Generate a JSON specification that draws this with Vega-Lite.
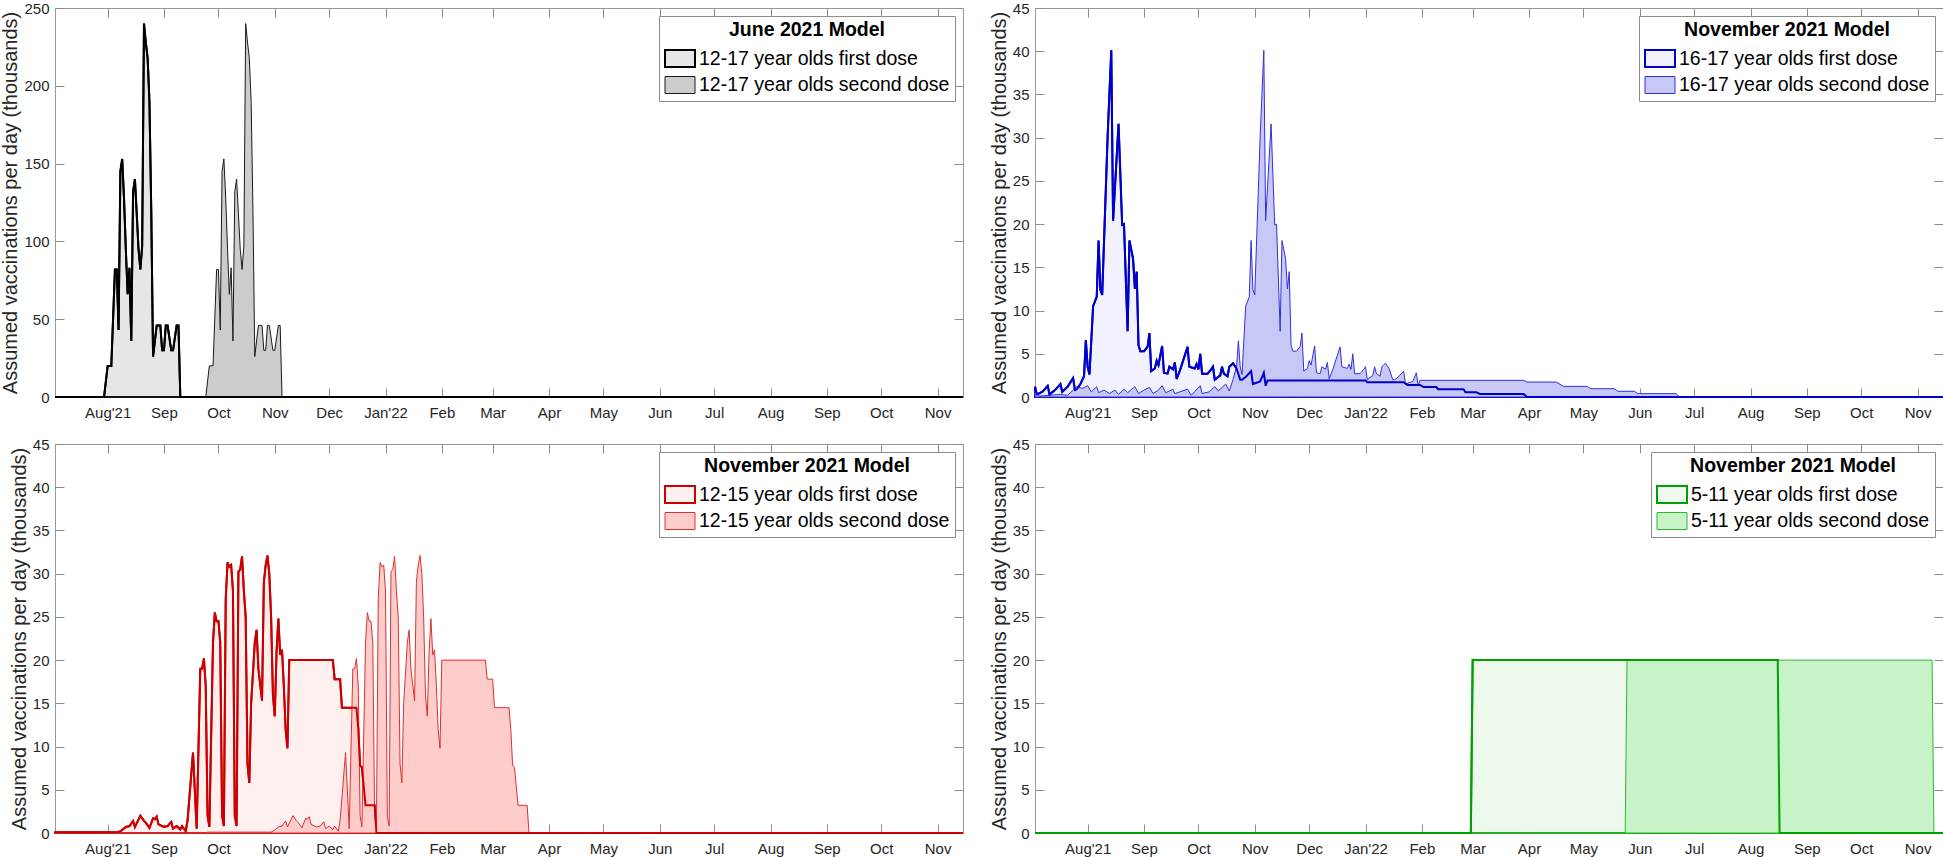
{
"$schema": "https://vega.github.io/schema/vega-lite/v6.json",
"padding": {"left": 0, "top": 0, "right": 0, "bottom": 0},
"background": "white",
"columns": 2,
"bounds": "flush",
"spacing": {"row": 47, "column": 72},
"datasets": {
"p1": [
{"s":"first","d":"2021-07-03","v":0},{"s":"first","d":"2021-07-30","v":0},{"s":"first","d":"2021-08-01","v":20},{"s":"first","d":"2021-08-03","v":20},{"s":"first","d":"2021-08-05","v":82},{"s":"first","d":"2021-08-06","v":82},{"s":"first","d":"2021-08-07","v":43},{"s":"first","d":"2021-08-08","v":145},{"s":"first","d":"2021-08-09","v":153},{"s":"first","d":"2021-08-10","v":128},{"s":"first","d":"2021-08-11","v":95},{"s":"first","d":"2021-08-12","v":66},{"s":"first","d":"2021-08-13","v":83},{"s":"first","d":"2021-08-14","v":36},{"s":"first","d":"2021-08-15","v":132},{"s":"first","d":"2021-08-16","v":140},{"s":"first","d":"2021-08-17","v":118},{"s":"first","d":"2021-08-18","v":95},{"s":"first","d":"2021-08-19","v":82},{"s":"first","d":"2021-08-20","v":97},{"s":"first","d":"2021-08-21","v":240},{"s":"first","d":"2021-08-22","v":228},{"s":"first","d":"2021-08-23","v":218},{"s":"first","d":"2021-08-24","v":190},{"s":"first","d":"2021-08-25","v":120},{"s":"first","d":"2021-08-26","v":26},{"s":"first","d":"2021-08-28","v":46},{"s":"first","d":"2021-08-30","v":46},{"s":"first","d":"2021-08-31","v":30},{"s":"first","d":"2021-09-01","v":30},{"s":"first","d":"2021-09-02","v":46},{"s":"first","d":"2021-09-03","v":46},{"s":"first","d":"2021-09-05","v":30},{"s":"first","d":"2021-09-06","v":30},{"s":"first","d":"2021-09-08","v":46},{"s":"first","d":"2021-09-09","v":46},{"s":"first","d":"2021-09-10","v":0},{"s":"first","d":"2022-11-15","v":0},
{"s":"second","d":"2021-07-03","v":0},{"s":"second","d":"2021-09-24","v":0},{"s":"second","d":"2021-09-26","v":20},{"s":"second","d":"2021-09-28","v":20},{"s":"second","d":"2021-09-30","v":82},{"s":"second","d":"2021-10-01","v":82},{"s":"second","d":"2021-10-02","v":43},{"s":"second","d":"2021-10-03","v":145},{"s":"second","d":"2021-10-04","v":153},{"s":"second","d":"2021-10-05","v":128},{"s":"second","d":"2021-10-06","v":95},{"s":"second","d":"2021-10-07","v":66},{"s":"second","d":"2021-10-08","v":83},{"s":"second","d":"2021-10-09","v":36},{"s":"second","d":"2021-10-10","v":132},{"s":"second","d":"2021-10-11","v":140},{"s":"second","d":"2021-10-12","v":118},{"s":"second","d":"2021-10-13","v":95},{"s":"second","d":"2021-10-14","v":82},{"s":"second","d":"2021-10-15","v":97},{"s":"second","d":"2021-10-16","v":240},{"s":"second","d":"2021-10-17","v":228},{"s":"second","d":"2021-10-18","v":218},{"s":"second","d":"2021-10-19","v":190},{"s":"second","d":"2021-10-20","v":120},{"s":"second","d":"2021-10-21","v":26},{"s":"second","d":"2021-10-23","v":46},{"s":"second","d":"2021-10-25","v":46},{"s":"second","d":"2021-10-26","v":30},{"s":"second","d":"2021-10-27","v":30},{"s":"second","d":"2021-10-28","v":46},{"s":"second","d":"2021-10-29","v":46},{"s":"second","d":"2021-10-31","v":30},{"s":"second","d":"2021-11-01","v":30},{"s":"second","d":"2021-11-03","v":46},{"s":"second","d":"2021-11-04","v":46},{"s":"second","d":"2021-11-05","v":0},{"s":"second","d":"2022-11-15","v":0}
],
"p2": [
{"s":"first","d":"2021-07-03","v":1.2},{"s":"first","d":"2021-07-04","v":0.3},{"s":"first","d":"2021-07-07","v":0.6},{"s":"first","d":"2021-07-10","v":1.3},{"s":"first","d":"2021-07-11","v":0.3},{"s":"first","d":"2021-07-14","v":0.8},{"s":"first","d":"2021-07-17","v":1.5},{"s":"first","d":"2021-07-18","v":0.6},{"s":"first","d":"2021-07-21","v":1.2},{"s":"first","d":"2021-07-24","v":2.2},{"s":"first","d":"2021-07-25","v":0.8},{"s":"first","d":"2021-07-26","v":0.9},{"s":"first","d":"2021-07-28","v":1.5},{"s":"first","d":"2021-07-30","v":2.4},{"s":"first","d":"2021-07-31","v":6.6},{"s":"first","d":"2021-08-01","v":3.5},{"s":"first","d":"2021-08-02","v":2.6},{"s":"first","d":"2021-08-04","v":10.5},{"s":"first","d":"2021-08-06","v":11.6},{"s":"first","d":"2021-08-07","v":18.1},{"s":"first","d":"2021-08-08","v":12.4},{"s":"first","d":"2021-08-09","v":11.8},{"s":"first","d":"2021-08-12","v":30.2},{"s":"first","d":"2021-08-14","v":40.1},{"s":"first","d":"2021-08-15","v":20.4},{"s":"first","d":"2021-08-18","v":31.6},{"s":"first","d":"2021-08-20","v":19.9},{"s":"first","d":"2021-08-21","v":20},{"s":"first","d":"2021-08-23","v":7.6},{"s":"first","d":"2021-08-24","v":18.1},{"s":"first","d":"2021-08-26","v":16},{"s":"first","d":"2021-08-27","v":12.5},{"s":"first","d":"2021-08-28","v":14.5},{"s":"first","d":"2021-08-29","v":6},{"s":"first","d":"2021-08-30","v":5.3},{"s":"first","d":"2021-09-01","v":5.3},{"s":"first","d":"2021-09-03","v":5.8},{"s":"first","d":"2021-09-04","v":7.4},{"s":"first","d":"2021-09-05","v":3.0},{"s":"first","d":"2021-09-07","v":3.3},{"s":"first","d":"2021-09-08","v":4.2},{"s":"first","d":"2021-09-09","v":3.7},{"s":"first","d":"2021-09-11","v":5.9},{"s":"first","d":"2021-09-12","v":2.8},{"s":"first","d":"2021-09-14","v":2.7},{"s":"first","d":"2021-09-15","v":3.5},{"s":"first","d":"2021-09-17","v":3.2},{"s":"first","d":"2021-09-18","v":4.0},{"s":"first","d":"2021-09-19","v":2.1},{"s":"first","d":"2021-09-21","v":3.2},{"s":"first","d":"2021-09-25","v":5.8},{"s":"first","d":"2021-09-26","v":3.5},{"s":"first","d":"2021-09-29","v":3.3},{"s":"first","d":"2021-09-30","v":3.8},{"s":"first","d":"2021-10-01","v":3.2},{"s":"first","d":"2021-10-02","v":5.0},{"s":"first","d":"2021-10-03","v":2.7},{"s":"first","d":"2021-10-06","v":2.7},{"s":"first","d":"2021-10-08","v":3.2},{"s":"first","d":"2021-10-09","v":3.5},{"s":"first","d":"2021-10-10","v":2.0},{"s":"first","d":"2021-10-13","v":2.5},{"s":"first","d":"2021-10-14","v":3.5},{"s":"first","d":"2021-10-15","v":2.7},{"s":"first","d":"2021-10-17","v":2.4},{"s":"first","d":"2021-10-18","v":3.5},{"s":"first","d":"2021-10-20","v":3.9},{"s":"first","d":"2021-10-22","v":3.3},{"s":"first","d":"2021-10-24","v":2.0},{"s":"first","d":"2021-10-25","v":2.0},{"s":"first","d":"2021-10-27","v":2.3},{"s":"first","d":"2021-10-30","v":3.0},{"s":"first","d":"2021-10-31","v":1.5},{"s":"first","d":"2021-11-04","v":1.8},{"s":"first","d":"2021-11-06","v":2.8},{"s":"first","d":"2021-11-07","v":1.3},{"s":"first","d":"2021-11-08","v":1.9},{"s":"first","d":"2022-01-01","v":1.9},{"s":"first","d":"2022-01-02","v":1.7},{"s":"first","d":"2022-01-22","v":1.7},{"s":"first","d":"2022-01-24","v":1.4},{"s":"first","d":"2022-01-31","v":1.4},{"s":"first","d":"2022-02-02","v":1.15},{"s":"first","d":"2022-02-09","v":1.15},{"s":"first","d":"2022-02-10","v":0.9},{"s":"first","d":"2022-02-24","v":0.9},{"s":"first","d":"2022-02-25","v":0.55},{"s":"first","d":"2022-03-03","v":0.55},{"s":"first","d":"2022-03-05","v":0.35},{"s":"first","d":"2022-03-29","v":0.35},{"s":"first","d":"2022-03-31","v":0},{"s":"first","d":"2022-11-15","v":0},
{"s":"second","d":"2021-07-03","v":0.8},{"s":"second","d":"2021-07-05","v":0.1},{"s":"second","d":"2021-07-17","v":0.3},{"s":"second","d":"2021-07-21","v":0.2},{"s":"second","d":"2021-07-26","v":1.2},{"s":"second","d":"2021-07-29","v":1.0},{"s":"second","d":"2021-08-01","v":1.3},{"s":"second","d":"2021-08-03","v":0.6},{"s":"second","d":"2021-08-06","v":1.2},{"s":"second","d":"2021-08-07","v":0.5},{"s":"second","d":"2021-08-10","v":0.8},{"s":"second","d":"2021-08-13","v":0.4},{"s":"second","d":"2021-08-16","v":0.8},{"s":"second","d":"2021-08-18","v":0.3},{"s":"second","d":"2021-08-21","v":0.9},{"s":"second","d":"2021-08-23","v":0.5},{"s":"second","d":"2021-08-27","v":1.2},{"s":"second","d":"2021-08-29","v":0.4},{"s":"second","d":"2021-09-01","v":0.8},{"s":"second","d":"2021-09-04","v":1.1},{"s":"second","d":"2021-09-06","v":0.4},{"s":"second","d":"2021-09-09","v":0.8},{"s":"second","d":"2021-09-11","v":1.3},{"s":"second","d":"2021-09-13","v":0.5},{"s":"second","d":"2021-09-17","v":0.9},{"s":"second","d":"2021-09-18","v":0.4},{"s":"second","d":"2021-09-25","v":0.9},{"s":"second","d":"2021-09-27","v":0.2},{"s":"second","d":"2021-10-02","v":1.3},{"s":"second","d":"2021-10-03","v":0.4},{"s":"second","d":"2021-10-07","v":0.6},{"s":"second","d":"2021-10-10","v":1.2},{"s":"second","d":"2021-10-12","v":0.7},{"s":"second","d":"2021-10-16","v":1.5},{"s":"second","d":"2021-10-18","v":0.7},{"s":"second","d":"2021-10-20","v":2.0},{"s":"second","d":"2021-10-22","v":3.5},{"s":"second","d":"2021-10-23","v":6.5},{"s":"second","d":"2021-10-24","v":3.5},{"s":"second","d":"2021-10-25","v":2.6},{"s":"second","d":"2021-10-27","v":10.5},{"s":"second","d":"2021-10-29","v":11.6},{"s":"second","d":"2021-10-30","v":18.1},{"s":"second","d":"2021-10-31","v":12.4},{"s":"second","d":"2021-11-01","v":11.8},{"s":"second","d":"2021-11-04","v":30.2},{"s":"second","d":"2021-11-06","v":40.1},{"s":"second","d":"2021-11-07","v":20.4},{"s":"second","d":"2021-11-10","v":31.6},{"s":"second","d":"2021-11-12","v":19.9},{"s":"second","d":"2021-11-13","v":20},{"s":"second","d":"2021-11-15","v":7.6},{"s":"second","d":"2021-11-16","v":18.1},{"s":"second","d":"2021-11-18","v":16},{"s":"second","d":"2021-11-19","v":12.5},{"s":"second","d":"2021-11-20","v":14.5},{"s":"second","d":"2021-11-21","v":6},{"s":"second","d":"2021-11-22","v":5.3},{"s":"second","d":"2021-11-24","v":5.3},{"s":"second","d":"2021-11-26","v":5.8},{"s":"second","d":"2021-11-27","v":7.4},{"s":"second","d":"2021-11-28","v":3.0},{"s":"second","d":"2021-11-30","v":3.3},{"s":"second","d":"2021-12-01","v":4.2},{"s":"second","d":"2021-12-02","v":3.7},{"s":"second","d":"2021-12-04","v":5.9},{"s":"second","d":"2021-12-05","v":2.8},{"s":"second","d":"2021-12-07","v":2.7},{"s":"second","d":"2021-12-08","v":3.5},{"s":"second","d":"2021-12-10","v":3.2},{"s":"second","d":"2021-12-11","v":4.0},{"s":"second","d":"2021-12-12","v":2.1},{"s":"second","d":"2021-12-14","v":3.2},{"s":"second","d":"2021-12-18","v":5.8},{"s":"second","d":"2021-12-19","v":3.5},{"s":"second","d":"2021-12-22","v":3.3},{"s":"second","d":"2021-12-23","v":3.8},{"s":"second","d":"2021-12-24","v":3.2},{"s":"second","d":"2021-12-25","v":5.0},{"s":"second","d":"2021-12-26","v":2.7},{"s":"second","d":"2021-12-29","v":2.7},{"s":"second","d":"2021-12-31","v":3.2},{"s":"second","d":"2022-01-01","v":3.5},{"s":"second","d":"2022-01-02","v":2.0},{"s":"second","d":"2022-01-05","v":2.5},{"s":"second","d":"2022-01-06","v":3.5},{"s":"second","d":"2022-01-07","v":2.7},{"s":"second","d":"2022-01-09","v":2.4},{"s":"second","d":"2022-01-10","v":3.5},{"s":"second","d":"2022-01-12","v":3.9},{"s":"second","d":"2022-01-14","v":3.3},{"s":"second","d":"2022-01-16","v":2.0},{"s":"second","d":"2022-01-17","v":2.0},{"s":"second","d":"2022-01-19","v":2.3},{"s":"second","d":"2022-01-22","v":3.0},{"s":"second","d":"2022-01-23","v":1.5},{"s":"second","d":"2022-01-27","v":1.8},{"s":"second","d":"2022-01-29","v":2.8},{"s":"second","d":"2022-01-30","v":1.3},{"s":"second","d":"2022-01-31","v":1.93},{"s":"second","d":"2022-03-29","v":1.93},{"s":"second","d":"2022-03-31","v":1.73},{"s":"second","d":"2022-04-16","v":1.73},{"s":"second","d":"2022-04-20","v":1.23},{"s":"second","d":"2022-05-03","v":1.23},{"s":"second","d":"2022-05-05","v":0.96},{"s":"second","d":"2022-05-18","v":0.96},{"s":"second","d":"2022-05-20","v":0.66},{"s":"second","d":"2022-05-29","v":0.66},{"s":"second","d":"2022-05-31","v":0.39},{"s":"second","d":"2022-06-21","v":0.39},{"s":"second","d":"2022-06-23","v":0},{"s":"second","d":"2022-11-15","v":0}
],
"p3": [
{"s":"first","d":"2021-07-03","v":0.1},{"s":"first","d":"2021-08-06","v":0.1},{"s":"first","d":"2021-08-08","v":0.2},{"s":"first","d":"2021-08-11","v":0.7},{"s":"first","d":"2021-08-13","v":0.8},{"s":"first","d":"2021-08-15","v":1.4},{"s":"first","d":"2021-08-16","v":0.7},{"s":"first","d":"2021-08-19","v":2.0},{"s":"first","d":"2021-08-21","v":1.4},{"s":"first","d":"2021-08-22","v":1.2},{"s":"first","d":"2021-08-24","v":0.6},{"s":"first","d":"2021-08-26","v":1.7},{"s":"first","d":"2021-08-27","v":1.6},{"s":"first","d":"2021-08-28","v":1.9},{"s":"first","d":"2021-08-29","v":1.0},{"s":"first","d":"2021-09-01","v":0.7},{"s":"first","d":"2021-09-03","v":0.8},{"s":"first","d":"2021-09-05","v":1.3},{"s":"first","d":"2021-09-06","v":0.5},{"s":"first","d":"2021-09-08","v":0.8},{"s":"first","d":"2021-09-10","v":0.4},{"s":"first","d":"2021-09-11","v":0.8},{"s":"first","d":"2021-09-13","v":0.2},{"s":"first","d":"2021-09-14","v":1.5},{"s":"first","d":"2021-09-17","v":9.3},{"s":"first","d":"2021-09-19","v":0.5},{"s":"first","d":"2021-09-21","v":19},{"s":"first","d":"2021-09-22","v":19},{"s":"first","d":"2021-09-23","v":20.2},{"s":"first","d":"2021-09-24","v":17},{"s":"first","d":"2021-09-25","v":2},{"s":"first","d":"2021-09-26","v":0.7},{"s":"first","d":"2021-09-28","v":22},{"s":"first","d":"2021-09-29","v":25.5},{"s":"first","d":"2021-09-30","v":24.5},{"s":"first","d":"2021-10-01","v":24.5},{"s":"first","d":"2021-10-02","v":22},{"s":"first","d":"2021-10-03","v":2},{"s":"first","d":"2021-10-04","v":0.8},{"s":"first","d":"2021-10-05","v":27},{"s":"first","d":"2021-10-06","v":31.3},{"s":"first","d":"2021-10-07","v":30.8},{"s":"first","d":"2021-10-08","v":31},{"s":"first","d":"2021-10-09","v":28},{"s":"first","d":"2021-10-10","v":2},{"s":"first","d":"2021-10-11","v":0.8},{"s":"first","d":"2021-10-12","v":30.2},{"s":"first","d":"2021-10-13","v":30.5},{"s":"first","d":"2021-10-14","v":32},{"s":"first","d":"2021-10-15","v":28},{"s":"first","d":"2021-10-16","v":25},{"s":"first","d":"2021-10-17","v":8},{"s":"first","d":"2021-10-18","v":5.8},{"s":"first","d":"2021-10-19","v":15},{"s":"first","d":"2021-10-21","v":22},{"s":"first","d":"2021-10-22","v":23.5},{"s":"first","d":"2021-10-23","v":19},{"s":"first","d":"2021-10-25","v":15.3},{"s":"first","d":"2021-10-26","v":29},{"s":"first","d":"2021-10-27","v":31},{"s":"first","d":"2021-10-28","v":32.1},{"s":"first","d":"2021-10-29","v":30},{"s":"first","d":"2021-10-30","v":25},{"s":"first","d":"2021-10-31","v":16},{"s":"first","d":"2021-11-01","v":13.5},{"s":"first","d":"2021-11-02","v":21},{"s":"first","d":"2021-11-03","v":24.8},{"s":"first","d":"2021-11-04","v":20.6},{"s":"first","d":"2021-11-05","v":21.2},{"s":"first","d":"2021-11-06","v":17},{"s":"first","d":"2021-11-07","v":12},{"s":"first","d":"2021-11-08","v":9.8},{"s":"first","d":"2021-11-09","v":20},{"s":"first","d":"2021-12-03","v":20},{"s":"first","d":"2021-12-04","v":17.8},{"s":"first","d":"2021-12-07","v":17.8},{"s":"first","d":"2021-12-08","v":14.5},{"s":"first","d":"2021-12-16","v":14.5},{"s":"first","d":"2021-12-17","v":12},{"s":"first","d":"2021-12-18","v":7.8},{"s":"first","d":"2021-12-19","v":7.6},{"s":"first","d":"2021-12-21","v":3.2},{"s":"first","d":"2021-12-26","v":3.2},{"s":"first","d":"2021-12-27","v":0},{"s":"first","d":"2022-11-15","v":0},
{"s":"second","d":"2021-07-03","v":0},{"s":"second","d":"2021-09-24","v":0},{"s":"second","d":"2021-09-25","v":0.1},{"s":"second","d":"2021-10-30","v":0.1},{"s":"second","d":"2021-10-31","v":0.2},{"s":"second","d":"2021-11-03","v":0.7},{"s":"second","d":"2021-11-05","v":0.8},{"s":"second","d":"2021-11-07","v":1.4},{"s":"second","d":"2021-11-08","v":0.7},{"s":"second","d":"2021-11-11","v":2.0},{"s":"second","d":"2021-11-13","v":1.4},{"s":"second","d":"2021-11-14","v":1.2},{"s":"second","d":"2021-11-16","v":0.6},{"s":"second","d":"2021-11-18","v":1.7},{"s":"second","d":"2021-11-19","v":1.6},{"s":"second","d":"2021-11-20","v":1.9},{"s":"second","d":"2021-11-21","v":1.0},{"s":"second","d":"2021-11-24","v":0.7},{"s":"second","d":"2021-11-26","v":0.8},{"s":"second","d":"2021-11-28","v":1.3},{"s":"second","d":"2021-11-29","v":0.5},{"s":"second","d":"2021-12-01","v":0.8},{"s":"second","d":"2021-12-03","v":0.4},{"s":"second","d":"2021-12-04","v":0.8},{"s":"second","d":"2021-12-06","v":0.2},{"s":"second","d":"2021-12-07","v":1.5},{"s":"second","d":"2021-12-10","v":9.3},{"s":"second","d":"2021-12-12","v":0.5},{"s":"second","d":"2021-12-14","v":19},{"s":"second","d":"2021-12-15","v":19},{"s":"second","d":"2021-12-16","v":20.2},{"s":"second","d":"2021-12-17","v":17},{"s":"second","d":"2021-12-18","v":2},{"s":"second","d":"2021-12-19","v":0.7},{"s":"second","d":"2021-12-21","v":22},{"s":"second","d":"2021-12-22","v":25.5},{"s":"second","d":"2021-12-23","v":24.5},{"s":"second","d":"2021-12-24","v":24.5},{"s":"second","d":"2021-12-25","v":22},{"s":"second","d":"2021-12-26","v":2},{"s":"second","d":"2021-12-27","v":0.8},{"s":"second","d":"2021-12-28","v":27},{"s":"second","d":"2021-12-29","v":31.3},{"s":"second","d":"2021-12-30","v":30.8},{"s":"second","d":"2021-12-31","v":31},{"s":"second","d":"2022-01-01","v":28},{"s":"second","d":"2022-01-02","v":2},{"s":"second","d":"2022-01-03","v":0.8},{"s":"second","d":"2022-01-04","v":30.2},{"s":"second","d":"2022-01-05","v":30.5},{"s":"second","d":"2022-01-06","v":32},{"s":"second","d":"2022-01-07","v":28},{"s":"second","d":"2022-01-08","v":25},{"s":"second","d":"2022-01-09","v":8},{"s":"second","d":"2022-01-10","v":5.8},{"s":"second","d":"2022-01-11","v":15},{"s":"second","d":"2022-01-13","v":22},{"s":"second","d":"2022-01-14","v":23.5},{"s":"second","d":"2022-01-15","v":19},{"s":"second","d":"2022-01-17","v":15.3},{"s":"second","d":"2022-01-18","v":29},{"s":"second","d":"2022-01-19","v":31},{"s":"second","d":"2022-01-20","v":32.1},{"s":"second","d":"2022-01-21","v":30},{"s":"second","d":"2022-01-22","v":25},{"s":"second","d":"2022-01-23","v":16},{"s":"second","d":"2022-01-24","v":13.5},{"s":"second","d":"2022-01-25","v":21},{"s":"second","d":"2022-01-26","v":24.8},{"s":"second","d":"2022-01-27","v":20.6},{"s":"second","d":"2022-01-28","v":21.2},{"s":"second","d":"2022-01-29","v":17},{"s":"second","d":"2022-01-30","v":12},{"s":"second","d":"2022-01-31","v":9.8},{"s":"second","d":"2022-02-01","v":20},{"s":"second","d":"2022-02-25","v":20},{"s":"second","d":"2022-02-26","v":17.8},{"s":"second","d":"2022-03-01","v":17.8},{"s":"second","d":"2022-03-02","v":14.5},{"s":"second","d":"2022-03-10","v":14.5},{"s":"second","d":"2022-03-11","v":12},{"s":"second","d":"2022-03-12","v":7.8},{"s":"second","d":"2022-03-13","v":7.6},{"s":"second","d":"2022-03-15","v":3.2},{"s":"second","d":"2022-03-20","v":3.2},{"s":"second","d":"2022-03-21","v":0},{"s":"second","d":"2022-11-15","v":0}
],
"p4": [
{"s":"first","d":"2021-07-03","v":0},{"s":"first","d":"2022-02-28","v":0},{"s":"first","d":"2022-03-01","v":20},{"s":"first","d":"2022-08-16","v":20},{"s":"first","d":"2022-08-17","v":0},{"s":"first","d":"2022-11-15","v":0},
{"s":"second","d":"2021-07-03","v":0},{"s":"second","d":"2022-05-24","v":0},{"s":"second","d":"2022-05-25","v":20},{"s":"second","d":"2022-11-09","v":20},{"s":"second","d":"2022-11-10","v":0},{"s":"second","d":"2022-11-15","v":0}
]
},
"concat": [
{
"width": 908, "height": 389,
"data": {"name": "p1"},
"layer": [
{"mark": {"type": "area", "interpolate": "linear"},
"encoding": {
"x": {"field": "d", "type": "temporal", "scale": {"type": "utc", "nice": false, "domain": [{"year": 2021, "month": 7, "date": 3, "utc": true}, {"year": 2022, "month": 11, "date": 15, "utc": true}]}, "axis": {"orient": "bottom", "title": null, "tickCount": {"interval": "month", "step": 1}, "labelFlush": false, "labelOverlap": false, "labelExpr": "(utcmonth(datum.value) == 0 || (utcmonth(datum.value) == 7 && utcyear(datum.value) == 2021)) ? utcFormat(datum.value, \"%b'%y\") : utcFormat(datum.value, '%b')"}},
"y": {"field": "v", "type": "quantitative", "stack": null, "scale": {"domain": [0, 250], "nice": false}, "axis": {"orient": "left", "title": "Assumed vaccinations per day (thousands)", "values": [0, 50, 100, 150, 200, 250], "labelFlush": false, "labelOverlap": false}},
"fill": {"field": "s", "type": "nominal", "scale": {"domain": ["first", "second"], "range": ["#e6e6e6", "#cccccc"]}, "legend": {"title": "June 2021 Model", "symbolType": "M-1.5,-0.85H1.5V0.85H-1.5Z", "labelExpr": "datum.label == 'first' ? '12-17 year olds first dose' : '12-17 year olds second dose'"}},
"stroke": {"field": "s", "type": "nominal", "scale": {"domain": ["first", "second"], "range": ["#000000", "#1a1a1a"]}, "legend": {"title": "June 2021 Model", "symbolType": "M-1.5,-0.85H1.5V0.85H-1.5Z", "labelExpr": "datum.label == 'first' ? '12-17 year olds first dose' : '12-17 year olds second dose'"}},
"strokeDash": {"field": "s", "type": "nominal", "scale": {"domain": ["first", "second"], "range": [[1, 0], [6, 3]]}, "legend": {"title": "June 2021 Model", "symbolType": "M-1.5,-0.85H1.5V0.85H-1.5Z", "labelExpr": "datum.label == 'first' ? '12-17 year olds first dose' : '12-17 year olds second dose'"}},
"strokeWidth": {"field": "s", "type": "nominal", "scale": {"type": "ordinal", "domain": ["first", "second"], "range": [2, 1]}, "legend": {"title": "June 2021 Model", "symbolType": "M-1.5,-0.85H1.5V0.85H-1.5Z", "labelExpr": "datum.label == 'first' ? '12-17 year olds first dose' : '12-17 year olds second dose'"}}
}},
{"transform": [{"filter": "datum.s == 'first'"}],
"mark": {"type": "line", "stroke": "#000000", "strokeWidth": 2},
"encoding": {
"x": {"field": "d", "type": "temporal", "scale": {"type": "utc", "nice": false, "domain": [{"year": 2021, "month": 7, "date": 3, "utc": true}, {"year": 2022, "month": 11, "date": 15, "utc": true}]}, "axis": {"orient": "top", "title": null, "labels": false, "tickCount": {"interval": "month", "step": 1}}},
"y": {"field": "v", "type": "quantitative", "scale": {"domain": [0, 250], "nice": false}, "axis": {"orient": "right", "title": null, "labels": false, "values": [0, 50, 100, 150, 200, 250]}}
}}
],
"resolve": {"axis": {"x": "independent", "y": "independent"}}
},
{
"width": 908, "height": 389,
"data": {"name": "p2"},
"layer": [
{"mark": {"type": "area", "interpolate": "linear"},
"encoding": {
"x": {"field": "d", "type": "temporal", "scale": {"type": "utc", "nice": false, "domain": [{"year": 2021, "month": 7, "date": 3, "utc": true}, {"year": 2022, "month": 11, "date": 15, "utc": true}]}, "axis": {"orient": "bottom", "title": null, "tickCount": {"interval": "month", "step": 1}, "labelFlush": false, "labelOverlap": false, "labelExpr": "(utcmonth(datum.value) == 0 || (utcmonth(datum.value) == 7 && utcyear(datum.value) == 2021)) ? utcFormat(datum.value, \"%b'%y\") : utcFormat(datum.value, '%b')"}},
"y": {"field": "v", "type": "quantitative", "stack": null, "scale": {"domain": [0, 45], "nice": false}, "axis": {"orient": "left", "title": "Assumed vaccinations per day (thousands)", "values": [0, 5, 10, 15, 20, 25, 30, 35, 40, 45], "labelFlush": false, "labelOverlap": false}},
"fill": {"field": "s", "type": "nominal", "scale": {"domain": ["first", "second"], "range": ["#f2f2fe", "#c8c8f7"]}, "legend": {"title": "November 2021 Model", "symbolType": "M-1.5,-0.85H1.5V0.85H-1.5Z", "labelExpr": "datum.label == 'first' ? '16-17 year olds first dose' : '16-17 year olds second dose'"}},
"stroke": {"field": "s", "type": "nominal", "scale": {"domain": ["first", "second"], "range": ["#0000cc", "#3030dd"]}, "legend": {"title": "November 2021 Model", "symbolType": "M-1.5,-0.85H1.5V0.85H-1.5Z", "labelExpr": "datum.label == 'first' ? '16-17 year olds first dose' : '16-17 year olds second dose'"}},
"strokeDash": {"field": "s", "type": "nominal", "scale": {"domain": ["first", "second"], "range": [[1, 0], [6, 3]]}, "legend": {"title": "November 2021 Model", "symbolType": "M-1.5,-0.85H1.5V0.85H-1.5Z", "labelExpr": "datum.label == 'first' ? '16-17 year olds first dose' : '16-17 year olds second dose'"}},
"strokeWidth": {"field": "s", "type": "nominal", "scale": {"type": "ordinal", "domain": ["first", "second"], "range": [2, 1]}, "legend": {"title": "November 2021 Model", "symbolType": "M-1.5,-0.85H1.5V0.85H-1.5Z", "labelExpr": "datum.label == 'first' ? '16-17 year olds first dose' : '16-17 year olds second dose'"}}
}},
{"transform": [{"filter": "datum.s == 'first'"}],
"mark": {"type": "line", "stroke": "#0000cc", "strokeWidth": 2},
"encoding": {
"x": {"field": "d", "type": "temporal", "scale": {"type": "utc", "nice": false, "domain": [{"year": 2021, "month": 7, "date": 3, "utc": true}, {"year": 2022, "month": 11, "date": 15, "utc": true}]}, "axis": {"orient": "top", "title": null, "labels": false, "tickCount": {"interval": "month", "step": 1}}},
"y": {"field": "v", "type": "quantitative", "scale": {"domain": [0, 45], "nice": false}, "axis": {"orient": "right", "title": null, "labels": false, "values": [0, 5, 10, 15, 20, 25, 30, 35, 40, 45]}}
}}
],
"resolve": {"axis": {"x": "independent", "y": "independent"}}
},
{
"width": 908, "height": 389,
"data": {"name": "p3"},
"layer": [
{"mark": {"type": "area", "interpolate": "linear"},
"encoding": {
"x": {"field": "d", "type": "temporal", "scale": {"type": "utc", "nice": false, "domain": [{"year": 2021, "month": 7, "date": 3, "utc": true}, {"year": 2022, "month": 11, "date": 15, "utc": true}]}, "axis": {"orient": "bottom", "title": null, "tickCount": {"interval": "month", "step": 1}, "labelFlush": false, "labelOverlap": false, "labelExpr": "(utcmonth(datum.value) == 0 || (utcmonth(datum.value) == 7 && utcyear(datum.value) == 2021)) ? utcFormat(datum.value, \"%b'%y\") : utcFormat(datum.value, '%b')"}},
"y": {"field": "v", "type": "quantitative", "stack": null, "scale": {"domain": [0, 45], "nice": false}, "axis": {"orient": "left", "title": "Assumed vaccinations per day (thousands)", "values": [0, 5, 10, 15, 20, 25, 30, 35, 40, 45], "labelFlush": false, "labelOverlap": false}},
"fill": {"field": "s", "type": "nominal", "scale": {"domain": ["first", "second"], "range": ["#fff0f0", "#ffcccc"]}, "legend": {"title": "November 2021 Model", "symbolType": "M-1.5,-0.85H1.5V0.85H-1.5Z", "labelExpr": "datum.label == 'first' ? '12-15 year olds first dose' : '12-15 year olds second dose'"}},
"stroke": {"field": "s", "type": "nominal", "scale": {"domain": ["first", "second"], "range": ["#cc0000", "#dd3030"]}, "legend": {"title": "November 2021 Model", "symbolType": "M-1.5,-0.85H1.5V0.85H-1.5Z", "labelExpr": "datum.label == 'first' ? '12-15 year olds first dose' : '12-15 year olds second dose'"}},
"strokeDash": {"field": "s", "type": "nominal", "scale": {"domain": ["first", "second"], "range": [[1, 0], [6, 3]]}, "legend": {"title": "November 2021 Model", "symbolType": "M-1.5,-0.85H1.5V0.85H-1.5Z", "labelExpr": "datum.label == 'first' ? '12-15 year olds first dose' : '12-15 year olds second dose'"}},
"strokeWidth": {"field": "s", "type": "nominal", "scale": {"type": "ordinal", "domain": ["first", "second"], "range": [2, 1]}, "legend": {"title": "November 2021 Model", "symbolType": "M-1.5,-0.85H1.5V0.85H-1.5Z", "labelExpr": "datum.label == 'first' ? '12-15 year olds first dose' : '12-15 year olds second dose'"}}
}},
{"transform": [{"filter": "datum.s == 'first'"}],
"mark": {"type": "line", "stroke": "#cc0000", "strokeWidth": 2},
"encoding": {
"x": {"field": "d", "type": "temporal", "scale": {"type": "utc", "nice": false, "domain": [{"year": 2021, "month": 7, "date": 3, "utc": true}, {"year": 2022, "month": 11, "date": 15, "utc": true}]}, "axis": {"orient": "top", "title": null, "labels": false, "tickCount": {"interval": "month", "step": 1}}},
"y": {"field": "v", "type": "quantitative", "scale": {"domain": [0, 45], "nice": false}, "axis": {"orient": "right", "title": null, "labels": false, "values": [0, 5, 10, 15, 20, 25, 30, 35, 40, 45]}}
}}
],
"resolve": {"axis": {"x": "independent", "y": "independent"}}
},
{
"width": 908, "height": 389,
"data": {"name": "p4"},
"layer": [
{"mark": {"type": "area", "interpolate": "linear"},
"encoding": {
"x": {"field": "d", "type": "temporal", "scale": {"type": "utc", "nice": false, "domain": [{"year": 2021, "month": 7, "date": 3, "utc": true}, {"year": 2022, "month": 11, "date": 15, "utc": true}]}, "axis": {"orient": "bottom", "title": null, "tickCount": {"interval": "month", "step": 1}, "labelFlush": false, "labelOverlap": false, "labelExpr": "(utcmonth(datum.value) == 0 || (utcmonth(datum.value) == 7 && utcyear(datum.value) == 2021)) ? utcFormat(datum.value, \"%b'%y\") : utcFormat(datum.value, '%b')"}},
"y": {"field": "v", "type": "quantitative", "stack": null, "scale": {"domain": [0, 45], "nice": false}, "axis": {"orient": "left", "title": "Assumed vaccinations per day (thousands)", "values": [0, 5, 10, 15, 20, 25, 30, 35, 40, 45], "labelFlush": false, "labelOverlap": false}},
"fill": {"field": "s", "type": "nominal", "scale": {"domain": ["first", "second"], "range": ["#eef9ee", "#c8f2c8"]}, "legend": {"title": "November 2021 Model", "symbolType": "M-1.5,-0.85H1.5V0.85H-1.5Z", "labelExpr": "datum.label == 'first' ? '5-11 year olds first dose' : '5-11 year olds second dose'"}},
"stroke": {"field": "s", "type": "nominal", "scale": {"domain": ["first", "second"], "range": ["#00a000", "#30b530"]}, "legend": {"title": "November 2021 Model", "symbolType": "M-1.5,-0.85H1.5V0.85H-1.5Z", "labelExpr": "datum.label == 'first' ? '5-11 year olds first dose' : '5-11 year olds second dose'"}},
"strokeDash": {"field": "s", "type": "nominal", "scale": {"domain": ["first", "second"], "range": [[1, 0], [6, 3]]}, "legend": {"title": "November 2021 Model", "symbolType": "M-1.5,-0.85H1.5V0.85H-1.5Z", "labelExpr": "datum.label == 'first' ? '5-11 year olds first dose' : '5-11 year olds second dose'"}},
"strokeWidth": {"field": "s", "type": "nominal", "scale": {"type": "ordinal", "domain": ["first", "second"], "range": [2, 1]}, "legend": {"title": "November 2021 Model", "symbolType": "M-1.5,-0.85H1.5V0.85H-1.5Z", "labelExpr": "datum.label == 'first' ? '5-11 year olds first dose' : '5-11 year olds second dose'"}}
}},
{"transform": [{"filter": "datum.s == 'first'"}],
"mark": {"type": "line", "stroke": "#00a000", "strokeWidth": 2},
"encoding": {
"x": {"field": "d", "type": "temporal", "scale": {"type": "utc", "nice": false, "domain": [{"year": 2021, "month": 7, "date": 3, "utc": true}, {"year": 2022, "month": 11, "date": 15, "utc": true}]}, "axis": {"orient": "top", "title": null, "labels": false, "tickCount": {"interval": "month", "step": 1}}},
"y": {"field": "v", "type": "quantitative", "scale": {"domain": [0, 45], "nice": false}, "axis": {"orient": "right", "title": null, "labels": false, "values": [0, 5, 10, 15, 20, 25, 30, 35, 40, 45]}}
}}
],
"resolve": {"axis": {"x": "independent", "y": "independent"}}
}
],
"resolve": {
"scale": {"x": "independent", "y": "independent", "fill": "independent", "stroke": "independent", "strokeDash": "independent", "strokeWidth": "independent"},
"legend": {"fill": "independent", "stroke": "independent", "strokeDash": "independent", "strokeWidth": "independent"}
},
"config": {
"font": "Liberation Sans",
"view": {"stroke": "#999999", "strokeWidth": 1},
"axis": {"labelFont": "Liberation Sans", "labelFontSize": 15, "labelColor": "#262626", "titleFont": "Liberation Sans", "titleFontSize": 20, "titleFontWeight": "normal", "titleColor": "#262626", "titlePadding": 3, "tickColor": "#8c8c8c", "tickSize": -9, "tickWidth": 1, "domain": false, "grid": false},
"axisX": {"labelPadding": 17},
"axisY": {"labelPadding": 15},
"legend": {"orient": "top-right", "offset": 8, "titleFont": "Liberation Sans", "titleFontSize": 19.5, "titleFontWeight": "bold", "titleColor": "#000000", "titleAnchor": "middle", "titlePadding": 7, "titleLimit": 600, "labelFont": "Liberation Sans", "labelFontSize": 19.5, "labelColor": "#000000", "labelOffset": 8, "labelLimit": 600, "symbolSize": 400, "symbolOffset": 5, "strokeColor": "#8c8c8c", "fillColor": "#ffffff", "padding": 5, "rowPadding": 3, "cornerRadius": 0}
}
}
